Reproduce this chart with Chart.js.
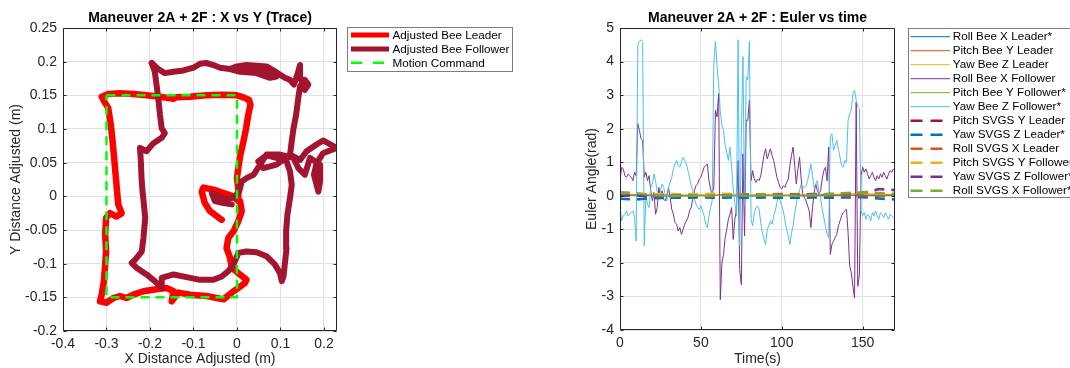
<!DOCTYPE html>
<html><head><meta charset="utf-8">
<script src="https://cdn.jsdelivr.net/npm/chart.js@4"></script>
<style>
html,body{margin:0;padding:0;background:#fff;width:1070px;height:368px;overflow:hidden;}
#c1{position:absolute;left:0;top:0;width:540px;height:368px;}
#c2{position:absolute;left:540px;top:0;width:530px;height:368px;}
</style></head><body>
<canvas id="c1" width="540" height="368"></canvas>
<canvas id="c2" width="530" height="368"></canvas>
<script>
// ---------- Left plot: X vs Y trace ----------
const leaderX = [-0.035,-0.062,-0.074,-0.081,-0.077,-0.054,-0.031,-0.008,0.003,0.003,0.000,0.003,0.008,0.015,0.021,0.026,0.031,0.028,0.015,0.000,-0.031,-0.070,-0.108,-0.139,-0.146,-0.177,-0.208,-0.238,-0.269,-0.296,-0.311,-0.307,-0.296,-0.290,-0.286,-0.281,-0.277,-0.273,-0.265,-0.277,-0.292,-0.301,-0.303,-0.301,-0.303,-0.306,-0.311,-0.315,-0.300,-0.284,-0.269,-0.254,-0.238,-0.215,-0.185,-0.162,-0.146,-0.150,-0.135,-0.108,-0.070,-0.031,-0.008,0.018,0.022,0.007,-0.012,-0.016,-0.024,-0.020,-0.008,0.003,0.011,0.007];
const leaderY = [-0.035,-0.022,-0.010,0.007,0.013,0.010,0.005,0.000,-0.007,0.012,0.027,0.042,0.062,0.082,0.101,0.121,0.136,0.143,0.147,0.150,0.151,0.150,0.148,0.147,0.145,0.148,0.150,0.152,0.153,0.152,0.148,0.143,0.131,0.106,0.082,0.047,0.017,-0.012,-0.025,-0.030,-0.025,-0.032,-0.057,-0.082,-0.101,-0.126,-0.146,-0.156,-0.158,-0.151,-0.148,-0.151,-0.146,-0.141,-0.138,-0.136,-0.141,-0.156,-0.143,-0.146,-0.148,-0.153,-0.141,-0.129,-0.124,-0.116,-0.106,-0.091,-0.077,-0.062,-0.052,-0.037,-0.022,-0.007];
const followerX1 = [-0.196,-0.189,-0.185,-0.181,-0.177,-0.173,-0.166,-0.173,-0.192,-0.208,-0.223,-0.221,-0.219,-0.217,-0.214,-0.211,-0.215,-0.219,-0.234,-0.242,-0.231,-0.208,-0.189,-0.173,-0.173,-0.146,-0.116,-0.085,-0.054,-0.035,-0.020,-0.008,-0.001,0.003,0.022,0.045,0.068,0.087,0.099,0.103,0.107,0.110,0.114,0.113,0.116,0.122,0.126,0.122,0.114,0.091,0.068,0.049,0.061,0.091,0.122,0.145,0.160,0.183,0.198,0.229,0.198,0.183,0.177,0.187,0.191,0.191,0.168,0.156,0.141,0.130,0.099,0.068,0.038,0.022,0.011,0.005,-0.008,-0.028,-0.047,-0.058,-0.051,-0.031,-0.012];
const followerY1 = [0.198,0.185,0.166,0.146,0.121,0.101,0.094,0.087,0.079,0.067,0.072,0.052,0.022,0.007,-0.012,-0.032,-0.062,-0.082,-0.094,-0.099,-0.106,-0.116,-0.126,-0.136,-0.121,-0.116,-0.120,-0.124,-0.124,-0.119,-0.111,-0.101,-0.091,-0.084,-0.082,-0.083,-0.089,-0.101,-0.114,-0.126,-0.119,-0.101,-0.077,-0.052,-0.027,-0.002,0.017,0.037,0.052,0.057,0.061,0.052,0.042,0.047,0.062,0.054,0.067,0.077,0.083,0.072,0.064,0.049,0.032,0.007,0.022,0.047,0.057,0.032,0.042,0.057,0.062,0.062,0.032,0.027,0.022,0.007,-0.002,-0.005,0.002,0.005,-0.007,-0.010,-0.012];
const followerX2 = [0.122,0.126,0.130,0.136,0.141,0.145,0.156,0.164,0.156,0.146,0.145,0.139,0.131,0.122,0.110,0.091,0.068,0.045,0.022,0.000,-0.016,0.007,0.045,0.076,0.091,0.061,0.022,-0.016,-0.039,-0.054,-0.071,-0.085,-0.100,-0.123,-0.146,-0.166,-0.181,-0.196];
const followerY2 = [0.062,0.082,0.101,0.121,0.146,0.163,0.173,0.166,0.158,0.176,0.195,0.181,0.166,0.173,0.176,0.184,0.193,0.194,0.195,0.193,0.189,0.185,0.183,0.176,0.178,0.186,0.189,0.189,0.191,0.195,0.198,0.197,0.191,0.187,0.185,0.183,0.189,0.198];
const commandX = [-0.3,0,0,-0.3,-0.3];
const commandY = [0.15,0.15,-0.15,-0.15,0.15];

// ---------- Right plot: Euler vs time ----------
const time = [0,1,2,3,4,5,6,7,8,9,10,11,12,13,14,15,16,17,18,19,20,21,22,23,24,25,26,27,28,29,30,31,32,33,34,35,36,37,38,39,40,41,42,43,44,45,46,47,48,49,50,51,52,53,54,55,56,57,58,59,60,61,62,63,64,65,66,67,68,69,70,71,72,73,74,75,76,77,78,79,80,81,82,83,84,85,86,87,88,89,90,91,92,93,94,95,96,97,98,99,100,101,102,103,104,105,106,107,108,109,110,111,112,113,114,115,116,117,118,119,120,121,122,123,124,125,126,127,128,129,130,131,132,133,134,135,136,137,138,139,140,141,142,143,144,145,146,147,148,149,150,151,152,153,154,155,156,157,158,159,160,161,162,163,164,165,166,167,168,169,170];
const yawBeeZFollower = [
 -0.3,-0.75,-0.6,-0.55,-0.45,-0.6,-0.55,-0.5,-0.45,-0.65,
 -1.35,4.5,4.6,4.65,4.6,-1.5,0.0,-0.25,-0.35,0.25,
 0.35,0.65,0.45,0.1,-0.05,0.15,0.35,0.25,0.05,-0.15,
 0.25,0.4,0.55,0.8,0.95,1.05,0.9,0.85,1.0,1.15,
 1.05,0.95,0.75,0.55,0.3,0.15,-0.1,-0.25,-0.35,-0.4,
 -0.3,-0.45,-0.6,-0.85,-0.95,-0.6,-0.35,-0.15,3.95,4.6,
 3.85,3.3,2.5,2.1,1.95,1.5,1.3,1.05,1.45,0.85,
 0.2,-0.2,-0.6,4.65,-1.5,1.75,4.15,-0.3,3.55,3.45,
 4.6,-0.7,-0.9,-0.5,-0.35,-0.3,-0.4,-0.8,-1.1,-1.3,
 -1.45,-1.0,-0.9,-0.75,-0.85,-0.6,-0.45,-0.2,0.0,-0.15,
 -0.3,-0.45,-0.75,-1.0,-1.2,-1.45,-1.1,-0.9,-0.5,-0.25,
 0.05,0.15,0.35,0.25,0.25,0.3,0.45,0.7,0.95,0.6,
 0.25,0.35,0.45,0.1,-0.05,-0.4,-0.65,-0.9,-1.15,-1.25,
 1.75,1.85,1.35,1.5,1.65,1.4,1.15,0.9,0.85,1.05,
 1.0,2.25,2.45,2.55,3.05,3.15,2.85,2.65,2.6,-0.45,
 -0.6,-0.5,-0.7,-0.55,-0.6,-0.75,-0.5,-0.6,-0.45,-0.6,
 -0.7,-0.5,-0.55,-0.65,-0.5,-0.6,-0.7,-0.55,-0.6,-0.65,
 -0.6];
const rollBeeXFollower = [
 0.45,0.85,0.8,0.6,0.55,0.65,0.6,0.55,0.45,0.7,
 0.6,2.15,1.95,1.7,1.65,0.55,0.7,0.45,0.6,0.15,
 -0.15,0.1,-0.55,-0.35,0.25,-0.05,0.15,-0.1,-0.15,0.0,
 0.25,-0.05,-0.4,-0.55,-0.8,-0.85,-1.05,-0.95,-1.15,-1.0,
 -0.85,-0.75,-0.65,-0.45,-0.35,-0.1,0.15,0.3,0.35,0.5,
 0.55,0.7,0.85,0.9,0.95,0.45,0.2,0.05,0.25,2.55,
 2.35,3.05,-3.1,-2.0,-1.75,-1.25,-1.0,-0.7,-0.55,-0.35,
 -1.3,-0.7,-0.4,1.05,-2.2,-2.65,1.25,-1.2,2.25,2.25,
 2.85,0.45,0.75,0.5,0.4,0.5,0.45,0.6,0.9,1.2,
 1.4,1.1,1.25,1.4,1.2,1.05,0.8,0.55,0.4,0.25,
 0.2,0.3,0.25,0.4,0.5,0.9,1.2,1.45,0.9,0.35,
 0.8,1.15,0.5,0.05,-0.05,-0.15,-0.3,-0.45,-0.95,-0.35,
 0.1,0.35,0.15,0.05,0.15,0.5,0.75,0.85,0.45,1.45,
 -1.75,-1.45,-1.35,-1.25,-1.15,-0.9,-0.75,-0.6,-0.5,-0.45,
 -0.4,-1.1,-2.1,-2.3,-2.7,-3.05,2.8,-2.7,-2.35,0.6,
 0.85,0.7,0.8,0.65,0.5,0.6,0.7,0.55,0.45,0.6,
 0.5,0.65,0.55,0.7,0.6,0.5,0.65,0.75,0.7,0.8,
 0.75];
const timeCoarse = [0,10,20,30,40,50,60,70,80,90,100,110,120,130,140,150,160,170];
const rollBeeXLeader   = [0.02,0.0,0.01,-0.01,0.0,0.02,0.01,0.0,-0.01,0.0,0.01,0.02,0.0,0.01,0.0,0.02,0.01,0.0];
const pitchBeeYLeader  = [0.0,0.01,0.0,0.0,-0.01,0.0,0.01,0.0,0.0,0.01,0.0,-0.01,0.0,0.0,0.01,0.0,0.0,0.01];
const yawBeeZLeader    = [0.04,0.03,0.04,0.03,0.02,0.03,0.04,0.03,0.03,0.04,0.03,0.02,0.03,0.04,0.03,0.04,0.05,0.04];
const pitchBeeYFollower= [0.06,0.04,0.02,0.01,0.02,0.0,0.01,0.02,0.01,0.02,0.01,0.02,0.03,0.04,0.05,0.06,0.04,0.03];
const pitchSVGSYLeader = [0.02,0.01,0.03,0.02,0.03,0.02,0.01,0.03,0.04,0.03,0.04,0.03,0.04,0.05,0.04,0.05,0.03,0.02];
const yawSVGSZLeader   = [-0.09,-0.11,-0.07,-0.06,-0.06,-0.05,-0.06,-0.05,-0.06,-0.05,-0.06,-0.06,-0.05,-0.06,-0.05,-0.04,-0.08,-0.11];
const rollSVGSXLeader  = [0.0,0.01,-0.01,0.0,0.01,0.0,-0.01,0.0,0.01,0.0,0.0,0.01,0.0,0.0,0.01,0.02,0.0,0.0];
const pitchSVGSYFollower=[0.06,0.05,0.04,0.05,0.04,0.05,0.06,0.05,0.04,0.05,0.06,0.05,0.04,0.05,0.06,0.07,0.06,0.05];
const yawSVGSZFollower = [0.0,0.01,-0.01,0.0,0.02,-0.02,0.0,0.02,0.03,0.02,0.04,0.03,0.05,0.04,0.06,0.08,0.2,0.17];
const rollSVGSXFollower= [0.1,0.08,0.02,-0.01,0.01,0.0,-0.01,0.02,0.0,0.02,0.01,0.0,0.03,0.05,0.08,0.1,0.08,0.05];

const leftXTicks = {min:-0.4, max:0.23, step:0.1};
const leftYTicks = {min:-0.2, max:0.25, step:0.05};
const rightXTicks = {min:0, max:170, step:50};
const rightYTicks = {min:-4, max:5, step:1};

// ---------- helpers ----------
const FONT = '"Liberation Sans", Arial, Helvetica, sans-serif';
Chart.defaults.font.family = FONT;
Chart.defaults.font.size = 14;
Chart.defaults.color = '#262626';
const pts = (xs, ys) => xs.map((x, i) => ({x: x, y: ys[i]}));
const fmt = v => String(Math.round(v * 100) / 100);
const GRID = '#e1e1e1';

function decor(cfg) {
  return {
    id: 'decor',
    afterDraw(chart) {
      const ctx = chart.ctx, a = chart.chartArea, xs = chart.scales.x, ys = chart.scales.y;
      ctx.save();
      ctx.setLineDash([]);
      ctx.strokeStyle = '#262626'; ctx.lineWidth = 1;
      const L = Math.round(a.left) + 0.5, R = Math.round(a.right) - 0.5, T = Math.round(a.top) + 0.5, B = Math.round(a.bottom) - 0.5;
      ctx.beginPath(); ctx.rect(L, T, R - L, B - T); ctx.stroke();
      ctx.beginPath();
      xs.ticks.forEach(t => { const p = Math.round(xs.getPixelForValue(t.value)) + 0.5; ctx.moveTo(p, B); ctx.lineTo(p, B - 3); ctx.moveTo(p, T); ctx.lineTo(p, T + 3); });
      ys.ticks.forEach(t => { const p = Math.round(ys.getPixelForValue(t.value)) + 0.5; ctx.moveTo(L, p); ctx.lineTo(L + 3, p); ctx.moveTo(R, p); ctx.lineTo(R - 3, p); });
      ctx.stroke();
      ctx.fillStyle = '#000'; ctx.font = 'bold 14px ' + FONT; ctx.textAlign = 'center'; ctx.textBaseline = 'middle';
      ctx.fillText(cfg.title, (a.left + a.right) / 2, cfg.titleY);
      const lg = cfg.legend;
      ctx.fillStyle = '#fff'; ctx.fillRect(lg.x, lg.y, lg.w, lg.h);
      ctx.strokeStyle = '#7d7d7d'; ctx.lineWidth = 1; ctx.strokeRect(lg.x + 0.5, lg.y + 0.5, lg.w, lg.h);
      ctx.font = lg.fontSize + 'px ' + FONT; ctx.textAlign = 'left'; ctx.textBaseline = 'middle';
      const items = chart.data.datasets.filter(d => d.label);
      items.forEach((d, i) => {
        const y = lg.row0 + i * lg.rowH;
        ctx.strokeStyle = d.borderColor; ctx.lineWidth = d.legendWidth || d.borderWidth;
        ctx.setLineDash(d.legendDash || []); ctx.lineCap = 'butt';
        ctx.beginPath(); ctx.moveTo(lg.lx0, y); ctx.lineTo(lg.lx1, y); ctx.stroke();
        ctx.setLineDash([]);
        ctx.fillStyle = '#000'; ctx.fillText(d.label, lg.tx, y + 0.5);
      });
      ctx.restore();
    }
  };
}

function axis(t, titleText, isX, fixed, titlePad, tickPad) {
  return {
    type: 'linear', min: t.min, max: t.max,
    ticks: {stepSize: t.step, includeBounds: false, autoSkip: false, maxRotation: 0, padding: tickPad, callback: fmt, color: '#262626', font: {size: 14}},
    grid: {color: GRID, drawTicks: false, lineWidth: 1},
    border: {display: false},
    title: {display: true, text: titleText, color: '#262626', font: {size: 14}, padding: titlePad},
    afterFit(s) { if (isX) s.height = fixed; else s.width = fixed; }
  };
}

const thick = {showLine: true, pointRadius: 0, borderJoinStyle: 'round', borderCapStyle: 'round', tension: 0};

new Chart(document.getElementById('c1'), {
  type: 'scatter',
  data: {datasets: [
    Object.assign({label: 'Adjusted Bee Leader', data: pts(leaderX, leaderY), borderColor: '#FF0000', backgroundColor: '#FF0000', borderWidth: 6.5, legendWidth: 5, order: 3}, thick),
    Object.assign({label: 'Adjusted Bee Follower', data: pts(followerX1, followerY1), borderColor: '#A2142F', backgroundColor: '#A2142F', borderWidth: 6, legendWidth: 5, order: 2}, thick),
    Object.assign({label: '', data: pts(followerX2, followerY2), borderColor: '#A2142F', backgroundColor: '#A2142F', borderWidth: 6, order: 2}, thick),
    {label: 'Motion Command', data: pts(commandX, commandY), showLine: true, pointRadius: 0, borderColor: '#00FF00', backgroundColor: '#00FF00', borderWidth: 2.5, borderDash: [9, 6], legendWidth: 2.5, legendDash: [11, 11], order: 1}
  ]},
  options: {
    responsive: false, animation: false, events: [],
    layout: {padding: {top: 28, left: 0, right: 203, bottom: 0}},
    plugins: {legend: {display: false}, tooltip: {enabled: false}},
    scales: {
      x: axis(leftXTicks, 'X Distance Adjusted (m)', true, 37, {top: 0, bottom: 0}, 5),
      y: axis(leftYTicks, 'Y Distance Adjusted (m)', false, 63, {top: 7.6, bottom: 0}, 6)
    }
  },
  plugins: [decor({title: 'Maneuver 2A + 2F : X vs Y (Trace)', titleY: 18,
    legend: {x: 347, y: 27, w: 165, h: 44, row0: 35, rowH: 13.9, lx0: 351, lx1: 389, tx: 392.5, fontSize: 11.7}})]
});

const thin = (label, xs, ys, color) => ({label: label, data: pts(xs, ys), showLine: true, pointRadius: 0, borderColor: color, backgroundColor: color, borderWidth: 1, tension: 0});
const dashed = (label, xs, ys, color) => ({label: label, data: pts(xs, ys), showLine: true, pointRadius: 0, borderColor: color, backgroundColor: color, borderWidth: 2.6, borderDash: [10, 7], legendDash: [12, 8], tension: 0});
const rightSets = [
  thin('Roll Bee X Leader*', timeCoarse, rollBeeXLeader, '#0072BD'),
  thin('Pitch Bee Y Leader', timeCoarse, pitchBeeYLeader, '#D95319'),
  thin('Yaw Bee Z Leader', timeCoarse, yawBeeZLeader, '#EDB120'),
  thin('Roll Bee X Follower', time, rollBeeXFollower, '#7E2F8E'),
  thin('Pitch Bee Y Follower*', timeCoarse, pitchBeeYFollower, '#77AC30'),
  thin('Yaw Bee Z Follower*', time, yawBeeZFollower, '#4DBEEE'),
  dashed('Pitch SVGS Y Leader', timeCoarse, pitchSVGSYLeader, '#A2142F'),
  dashed('Yaw SVGS Z Leader*', timeCoarse, yawSVGSZLeader, '#0072BD'),
  dashed('Roll SVGS X Leader', timeCoarse, rollSVGSXLeader, '#D95319'),
  dashed('Pitch SVGS Y Follower', timeCoarse, pitchSVGSYFollower, '#EDB120'),
  dashed('Yaw SVGS Z Follower*', timeCoarse, yawSVGSZFollower, '#7E2F8E'),
  dashed('Roll SVGS X Follower*', timeCoarse, rollSVGSXFollower, '#77AC30')
];
rightSets.forEach((d, i) => { d.order = rightSets.length - i; });

new Chart(document.getElementById('c2'), {
  type: 'scatter',
  data: {datasets: rightSets},
  options: {
    responsive: false, animation: false, events: [],
    layout: {padding: {top: 28, left: 0, right: 175, bottom: 0}},
    plugins: {legend: {display: false}, tooltip: {enabled: false}},
    scales: {
      x: axis(rightXTicks, 'Time(s)', true, 38, {top: 0, bottom: 0}, 5),
      y: axis(rightYTicks, 'Euler Angle(rad)', false, 80, {top: 43.6, bottom: 0}, 6)
    }
  },
  plugins: [decor({title: 'Maneuver 2A + 2F : Euler vs time', titleY: 18,
    legend: {x: 368, y: 28, w: 200, h: 169, row0: 36.7, rowH: 14.0, lx0: 370.5, lx1: 410, tx: 412.7, fontSize: 11.7}})]
});
</script></body></html>
